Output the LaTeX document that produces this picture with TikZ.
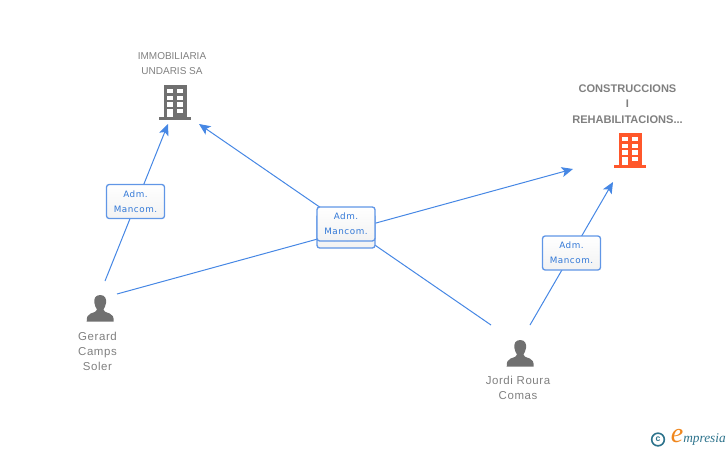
\documentclass[tikz,border=0pt]{standalone}
\usepackage{fontspec}
\setmainfont{Liberation Sans}
\newfontfamily\boxfont[LetterSpace=6]{DejaVu Sans}
\newfontfamily\namefont[LetterSpace=5]{Liberation Sans}
\newfontfamily\logofont{Liberation Serif}
\usetikzlibrary{arrows.meta}
\definecolor{linkblue}{RGB}{70,135,228}
\definecolor{boxblue}{RGB}{96,150,230}
\definecolor{textblue}{RGB}{50,120,215}
\definecolor{icongray}{RGB}{112,112,112}
\definecolor{iconred}{RGB}{255,87,43}
\definecolor{labelgray}{RGB}{128,128,128}
\definecolor{logoteal}{RGB}{45,115,140}
\definecolor{logoorange}{RGB}{240,135,30}
\tikzset{
  link/.style={draw=linkblue,line width=0.75pt},
  linkarrow/.style={link,-{Stealth[length=8.5pt,width=7.5pt,inset=2pt]}},
  rolebox/.style={draw=boxblue,line width=1pt,rounded corners=2pt,top color=white,bottom color=black!5,
    text=textblue,minimum width=43.5pt,minimum height=25.5pt,inner sep=0pt,align=center,
    font=\boxfont\fontsize{6.6}{11.2}\selectfont},
  companyname/.style={text=labelgray,align=center,inner sep=0pt,font=\fontsize{7.5}{11.25}\selectfont},
  bigname/.style={text=labelgray,align=center,inner sep=0pt,font=\bfseries\fontsize{8.3}{11.5}\selectfont},
  personname/.style={text=labelgray,align=center,inner sep=0pt,font=\namefont\fontsize{8.6}{11.25}\selectfont},
  icon/.style={yscale=-1},
  pics/buildingicon/.style={code={
    \fill[#1] (5,0) rectangle (28,32);
    \fill[#1] (0,32) rectangle (32,34.5);
    \foreach \ypos in {4,10.7,17.4} {
      \fill[white] (8.3,\ypos) rectangle (13.6,\ypos+4.4);
      \fill[white] (18.3,\ypos) rectangle (23.6,\ypos+4.4);
    }
    \fill[white] (8.3,24) rectangle (13.6,32);
    \fill[white] (18.3,24) rectangle (23.6,28.4);
  }},
  pics/personicon/.style={code={
    \fill[icongray] (13.5,0) .. controls (8.5,0) and (7,4) .. (7.7,8) .. controls (8.2,11) and (9.2,13) .. (10.3,14.5)
      .. controls (10.3,16.5) and (8,17) .. (4,18.5) .. controls (1,19.7) and (0,21.5) .. (0,26.7)
      -- (27,26.7) .. controls (27,21.5) and (26,19.7) .. (23,18.5) .. controls (19,17) and (16.7,16.5) .. (16.7,14.5)
      .. controls (17.8,13) and (18.8,11) .. (19.3,8) .. controls (20,4) and (18.5,0) .. (13.5,0) -- cycle;
  }}
}
\begin{document}
\begin{tikzpicture}[x=0.75pt,y=0.75pt,yscale=-1,xscale=1]
    \useasboundingbox (0,0) rectangle (728,450);
    % Free ends of the connectors
    \coordinate (gerardup) at (105,281);
    \coordinate (gerardright) at (117,294);
    \coordinate (jordileft) at (491,325);
    \coordinate (jordiup) at (530,325);
    \coordinate (undarisleft) at (168,124);
    \coordinate (undarisright) at (199,124);
    \coordinate (construleft) at (573,169);
    \coordinate (construright) at (613,182);
    % Connectors
    \draw [linkarrow] (gerardup) -- (undarisleft);
    \draw [linkarrow] (gerardright) -- (construleft);
    \draw [linkarrow] (jordileft) -- (undarisright);
    \draw [linkarrow] (jordiup) -- (construright);
    % Icons
    \path (159,85) pic [icon] {buildingicon=icongray};
    \path (614,133) pic [icon] {buildingicon=iconred};
    \path (86.7,295) pic [icon] {personicon};
    \path (506.7,340) pic [icon] {personicon};
    % Role boxes
    \node [rolebox] (roleleft) at (135.5,201.5) {Adm.\\Mancom.};
    \node [rolebox] (rolebehind) at (346,231) {Adm.\\Mancom.};
    \node [rolebox] (rolefront) at (346,224) {Adm.\\Mancom.};
    \node [rolebox] (roleright) at (571.5,253) {Adm.\\Mancom.};
    % Text Node
    \node [companyname] (undaris) at (172,63.5) {IMMOBILIARIA\\UNDARIS SA};
    \node [bigname] (constru) at (627.5,104) {CONSTRUCCIONS\\I\\REHABILITACIONS...};
    \node [personname] (gerard) at (97.5,351) {Gerard\\Camps\\Soler};
    \node [personname] (jordi) at (518,388) {Jordi Roura\\Comas};
    % Logo
    \node [draw=logoteal,line width=1.2pt,circle,minimum size=9.5pt,inner sep=0pt,text=logoteal,font=\bfseries\fontsize{6.5}{6.5}\selectfont] (logoc) at (658,439.5) {c};
    \node [text=logoorange,inner sep=0pt,font=\logofont\itshape\fontsize{21}{21}\selectfont] (logoe) at (677,436) {e};
    \node [text=logoteal,inner sep=0pt,anchor=west,font=\logofont\itshape\fontsize{10}{11}\selectfont] (logotext) at (683,439.5) {mpresia};
\end{tikzpicture}
\end{document}
